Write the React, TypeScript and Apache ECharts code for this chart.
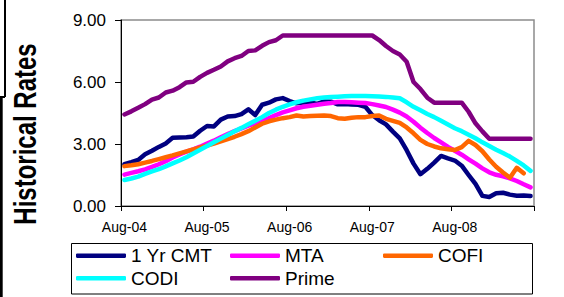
import { useEffect, useRef } from "react";
import * as echarts from "echarts";

const categories = [
  "Aug-04","Sep-04","Oct-04","Nov-04","Dec-04","Jan-05","Feb-05","Mar-05","Apr-05","May-05","Jun-05","Jul-05",
  "Aug-05","Sep-05","Oct-05","Nov-05","Dec-05","Jan-06","Feb-06","Mar-06","Apr-06","May-06","Jun-06","Jul-06",
  "Aug-06","Sep-06","Oct-06","Nov-06","Dec-06","Jan-07","Feb-07","Mar-07","Apr-07","May-07","Jun-07","Jul-07",
  "Aug-07","Sep-07","Oct-07","Nov-07","Dec-07","Jan-08","Feb-08","Mar-08","Apr-08","May-08","Jun-08","Jul-08",
  "Aug-08","Sep-08","Oct-08","Nov-08","Dec-08","Jan-09","Feb-09","Mar-09","Apr-09","May-09","Jun-09","Jul-09",
];

const cmt = [
  2.02, 2.12, 2.23, 2.5, 2.67, 2.86, 3.03, 3.3, 3.32, 3.33, 3.36, 3.64,
  3.87, 3.85, 4.18, 4.33, 4.35, 4.45, 4.68, 4.4, 4.9, 5.0, 5.16, 5.22,
  5.08, 4.97, 5.01, 5.01, 4.94, 5.06, 5.05, 4.92, 4.93, 4.91, 4.9, 4.8,
  4.4, 4.15, 3.95, 3.6, 3.27, 2.7, 2.05, 1.54, 1.8, 2.1, 2.42, 2.3,
  2.2, 1.95, 1.5, 1.07, 0.49, 0.44, 0.62, 0.64, 0.55, 0.5, 0.51, 0.48,
];

const mta = [
  1.52, 1.6, 1.68, 1.77, 1.89, 2.02, 2.17, 2.35, 2.5, 2.63, 2.74, 2.87,
  3.02, 3.16, 3.33, 3.48, 3.62, 3.75, 3.89, 4.0, 4.11, 4.25, 4.4, 4.53,
  4.63, 4.73, 4.8, 4.85, 4.9, 4.95, 4.98, 5.03, 5.03, 5.02, 5.0, 4.98,
  4.93, 4.86, 4.79, 4.66, 4.52, 4.33, 4.08, 3.79, 3.53, 3.29, 3.08, 2.86,
  2.67, 2.48, 2.26, 2.05, 1.82, 1.63, 1.51, 1.44, 1.34, 1.21, 1.05, 0.9,
];

const cofi = [
  1.93, 1.97, 2.02, 2.1, 2.18, 2.27, 2.36, 2.45, 2.55, 2.64, 2.74, 2.83,
  2.92, 3.02, 3.13, 3.24, 3.35, 3.48, 3.62, 3.8, 3.98, 4.1, 4.18, 4.25,
  4.3, 4.38, 4.33, 4.35, 4.37, 4.38, 4.35, 4.25, 4.22, 4.27, 4.3, 4.3,
  4.35, 4.38, 4.22, 4.12, 4.02, 3.8, 3.52, 3.2, 3.0, 2.88, 2.79, 2.75,
  2.71, 2.85, 3.15, 2.95, 2.65, 2.25, 1.9, 1.62, 1.37, 1.85, 1.58, null,
];

const codi = [
  1.26, 1.33, 1.42, 1.55, 1.67, 1.78, 1.92, 2.06, 2.2, 2.36, 2.54, 2.72,
  2.9, 3.08, 3.26, 3.44, 3.62, 3.78, 3.95, 4.12, 4.3, 4.5, 4.66, 4.8,
  4.92, 5.02, 5.1, 5.16, 5.21, 5.25, 5.27, 5.29, 5.31, 5.32, 5.32, 5.32,
  5.31, 5.3, 5.28, 5.25, 5.21, 5.02, 4.8, 4.63, 4.45, 4.3, 4.12, 3.94,
  3.76, 3.62, 3.45, 3.28, 3.08, 2.9, 2.72, 2.56, 2.39, 2.18, 1.96, 1.7,
];

const prime = [
  4.43, 4.58, 4.75, 4.93, 5.15, 5.25, 5.49, 5.58, 5.75, 5.98, 6.01, 6.25,
  6.44, 6.59, 6.75, 7.0, 7.15, 7.26, 7.5, 7.53, 7.75, 7.93, 8.02, 8.25,
  8.25, 8.25, 8.25, 8.25, 8.25, 8.25, 8.25, 8.25, 8.25, 8.25, 8.25, 8.25,
  8.25, 8.03, 7.74, 7.5, 7.33, 6.98, 6.0, 5.66, 5.24, 5.0, 5.0, 5.0,
  5.0, 5.0, 4.56, 4.0, 3.61, 3.25, 3.25, 3.25, 3.25, 3.25, 3.25, 3.25,
];

const seriesNames = ["1 Yr CMT", "MTA", "COFI", "CODI", "Prime"];
const seriesColors = ["#000080", "#FF00FF", "#FF6600", "#00FFFF", "#800080"];
const seriesData = [cmt, mta, cofi, codi, prime];

const yTickLabels = ["0.00", "3.00", "6.00", "9.00"];
const titleText = "Historical Rates";

const FONT = "'Liberation Sans', Arial, sans-serif";

export default function App() {
  const ref = useRef<HTMLDivElement>(null);

  useEffect(() => {
    const chart = echarts.init(ref.current!, null, { renderer: "svg" });

    const legendBase = {
      orient: "vertical" as const,
      padding: 0,
      itemWidth: 50,
      itemHeight: 4.5,
      icon: "roundRect",
      itemGap: 2.6,
      top: 245.7,
      textStyle: { fontSize: 19, lineHeight: 20, fontFamily: FONT, color: "#000" },
    };

    chart.setOption({
      animation: false,
      backgroundColor: "#fff",
      grid: {
        left: 121,
        top: 20,
        width: 413,
        height: 186,
        show: true,
        borderColor: "#8c8c8c",
        borderWidth: 1.5,
        backgroundColor: "transparent",
      },
      xAxis: {
        type: "category",
        data: categories,
        boundaryGap: true,
        axisLine: { lineStyle: { color: "#000", width: 1 } },
        axisTick: { show: true, interval: 11, length: 5, lineStyle: { color: "#000" } },
        axisLabel: { interval: 11, fontSize: 14, margin: 14, color: "#000", fontFamily: FONT },
        splitLine: { show: false },
      },
      yAxis: {
        type: "value",
        min: 0,
        max: 9,
        interval: 3,
        axisLine: { show: true, lineStyle: { color: "#000", width: 1 } },
        axisTick: { show: true, length: 6, lineStyle: { color: "#000" } },
        axisLabel: {
          fontSize: 17,
          margin: 15,
          color: "#000",
          fontFamily: FONT,
          formatter: (v: number) => yTickLabels[Math.round(v / 3)] ?? String(v),
        },
        splitLine: { show: false },
      },
      legend: [
        { ...legendBase, left: 76, data: ["1 Yr CMT", "CODI"] },
        { ...legendBase, left: 230, data: ["MTA", "Prime"] },
        { ...legendBase, left: 383, data: ["COFI"] },
      ],
      series: seriesNames.map((name, i) => ({
        name,
        type: "line",
        data: seriesData[i],
        symbol: "none",
        showSymbol: false,
        connectNulls: false,
        color: seriesColors[i],
        itemStyle: { color: seriesColors[i] },
        lineStyle: { color: seriesColors[i], width: 4.5, cap: "round", join: "round" },
      })),
      graphic: [
        {
          type: "text",
          x: 25,
          y: 134,
          rotation: Math.PI / 2,
          scaleY: 1.3,
          style: {
            text: titleText,
            fontSize: 24,
            fontWeight: "bold",
            fontFamily: FONT,
            fill: "#000",
            textAlign: "center",
            textVerticalAlign: "middle",
            align: "center",
            verticalAlign: "middle",
          },
        },
        { type: "rect", shape: { x: 4, y: 0, width: 2, height: 97 }, style: { fill: "#000" } },
        { type: "rect", shape: { x: 0, y: 96, width: 5, height: 2 }, style: { fill: "#000" } },
        { type: "rect", shape: { x: 0, y: 97, width: 2.7, height: 200 }, style: { fill: "#000" } },
        {
          type: "rect",
          shape: { x: 71.5, y: 243.5, width: 461, height: 50.5 },
          style: { fill: "none", stroke: "#000", lineWidth: 1 },
          z: -1,
        },
      ],
    });

    return () => chart.dispose();
  }, []);

  return (
    <div
      ref={ref}
      style={{ position: "absolute", left: 0, top: 0, width: 564, height: 297 }}
    />
  );
}
